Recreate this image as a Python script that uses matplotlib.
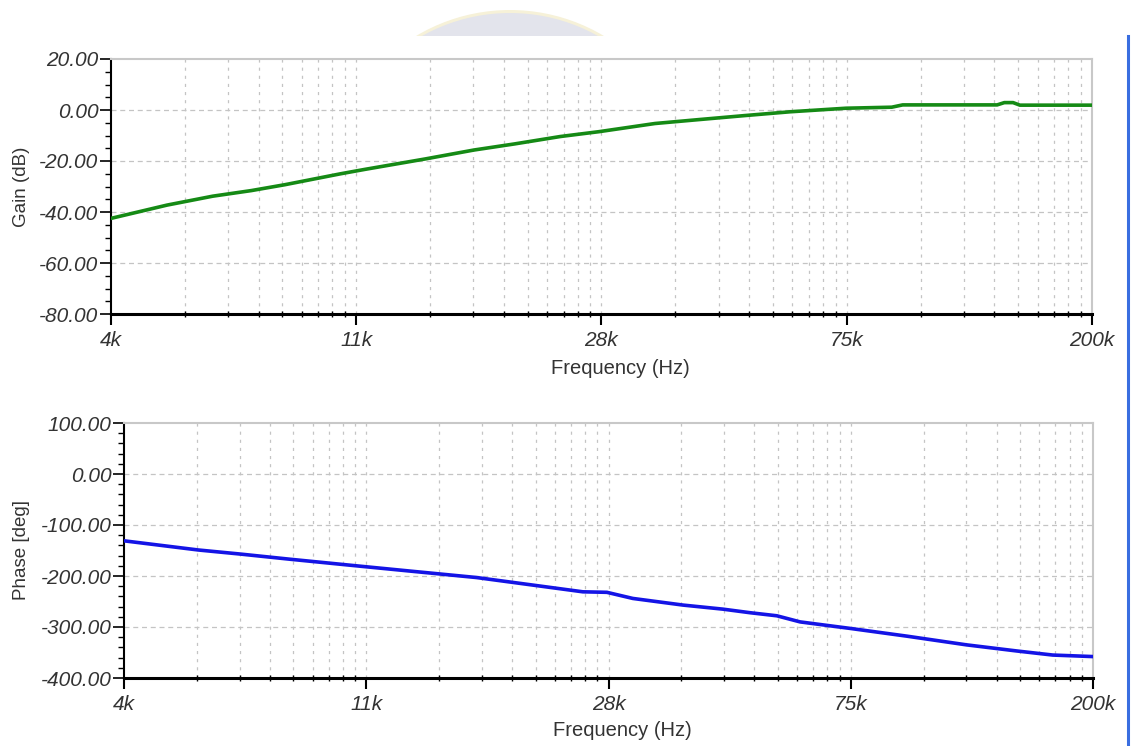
import numpy as np
import matplotlib
matplotlib.use("Agg")
import matplotlib.pyplot as plt
from matplotlib.ticker import FixedLocator, MultipleLocator, NullFormatter
from matplotlib.patches import Circle
from matplotlib.lines import Line2D

plt.rcParams['font.family'] = ['Liberation Sans', 'DejaVu Sans']

# gain curve (dB)
gain_freq = [4000, 5000, 6000, 7000, 8000, 10000, 11000, 14000, 17000, 20000, 24000,
             28000, 35000, 42000, 50000, 60000, 75000, 90000, 94000, 110000, 137000,
             141000, 146000, 150000, 200000]
gain_db = [-42.5, -37.3, -33.8, -31.6, -29.3, -25.0, -23.3, -19.2, -15.7, -13.3, -10.4,
           -8.5, -5.3, -3.7, -2.2, -0.7, 0.7, 1.1, 2.0, 2.0, 2.0,
           2.9, 2.9, 1.9, 1.9]

# phase curve (deg)
phase_freq = [4000, 5400, 6400, 7800, 10000, 12600, 16600, 20900, 25500, 28100, 31200,
              38200, 44900, 50100, 55800, 61300, 75300, 94400, 120000, 147000, 170000, 200000]
phase_deg = [-131, -149, -157, -167, -179, -190, -203, -218, -231, -232, -244,
             -257, -265, -272, -278, -290, -303, -318, -335, -347, -355, -358]

x_labels = ["4k", "11k", "28k", "75k", "200k"]
f_min, f_max = 4000, 200000

W, H = 1137, 746
fig = plt.figure(figsize=(W / 100, H / 100), dpi=100)


def px_box(x0, y0, x1, y1):
    return [x0 / W, 1 - y1 / H, (x1 - x0) / W, (y1 - y0) / H]


# major ticks split the range in 4 equal log steps, each step gridded like a decade
majors = np.geomspace(f_min, f_max, len(x_labels))
minors = []
for a, b in zip(majors[:-1], majors[1:]):
    for k in range(2, 10):
        minors.append(a * (b / a) ** np.log10(k))
grid_x = minors + list(majors[1:-1])

tick_font = dict(fontsize=15, style='italic', color='#333333')
grid_col = '#c4c4c4'


def style_axes(ax, ylim, ymajor, yminor, ylabel, xlab_pos, ylab_x):
    ax.set_xscale('log')
    ax.set_xlim(f_min, f_max)
    ax.set_ylim(*ylim)
    ax.xaxis.set_major_locator(FixedLocator(majors))
    ax.xaxis.set_minor_locator(FixedLocator(minors))
    ax.xaxis.set_minor_formatter(NullFormatter())
    ax.set_xticklabels(x_labels, **tick_font)
    yt = np.arange(ylim[0], ylim[1] + 1, ymajor)
    ax.set_yticks(yt)
    ax.set_yticklabels(["%.2f" % v for v in yt], **tick_font)
    ax.yaxis.set_minor_locator(MultipleLocator(yminor))
    for v in grid_x:
        ax.axvline(v, color=grid_col, lw=0.9, ls=(0, (2.5, 4)), zorder=0)
    for v in yt[1:-1]:
        ax.axhline(v, color=grid_col, lw=0.9, ls=(0, (4, 3)), zorder=0)
    ax.tick_params(axis='y', which='major', direction='out', length=8, width=1.2, pad=1)
    ax.tick_params(axis='y', which='minor', direction='out', length=4, width=1.0)
    ax.tick_params(axis='x', which='major', direction='out', length=8, width=1.5, pad=4)
    ax.tick_params(axis='x', which='minor', direction='inout', length=5, width=1.0)
    for s in ['top', 'right']:
        ax.spines[s].set_color('#c8c8c8')
        ax.spines[s].set_linewidth(1.5)
    ax.spines['left'].set_linewidth(1.5)
    ax.spines['bottom'].set_linewidth(2.2)
    ax.set_xlabel("Frequency (Hz)", fontsize=14.5, color='#333333')
    ax.xaxis.set_label_coords(*xlab_pos)
    ax.set_ylabel(ylabel, fontsize=13.5, color='#333333')
    ax.yaxis.set_label_coords(ylab_x, 0.5)


ax1 = fig.add_axes(px_box(111, 59, 1092, 314))
ax1.plot(gain_freq, gain_db, color='#158a15', lw=2.6, zorder=3)
style_axes(ax1, (-80, 20), 20, 5, "Gain (dB)", (0.519, -0.175), -0.083)

ax2 = fig.add_axes(px_box(124, 423, 1093, 678))
ax2.plot(phase_freq, phase_deg, color='#1414e6', lw=2.6, zorder=3)
style_axes(ax2, (-400, 100), 100, 20, "Phase [deg]", (0.514, -0.17), -0.097)

# faint logo remnant at the top
axw = fig.add_axes(px_box(0, 0, W, 36))
axw.set_xlim(0, W)
axw.set_ylim(36, 0)
axw.axis('off')
axw.add_patch(Circle((510, 193), 183, facecolor='#f6f1d8', edgecolor='none'))
axw.add_patch(Circle((510, 193), 180, facecolor='#e3e4ec', edgecolor='none'))

# blue frame edge on the right
fig.add_artist(Line2D([1128 / W, 1128 / W], [0, 1 - 36 / H], color='#3a6ee0', lw=2.2))

fig.savefig("out.png", dpi=100, facecolor='white')
